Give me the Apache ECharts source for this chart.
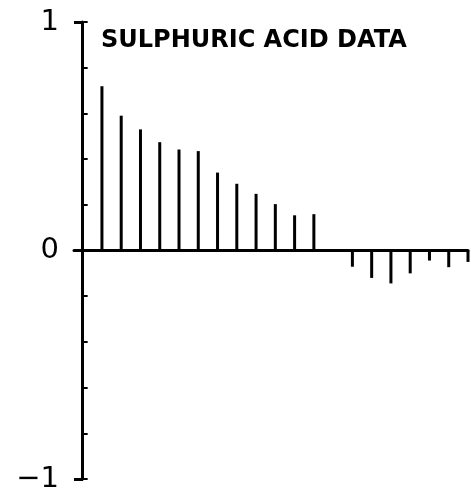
<!DOCTYPE html>
<html>
<head>
<meta charset="utf-8">
<script src="https://cdn.jsdelivr.net/npm/echarts@6/dist/echarts.min.js"></script>
<style>
  html, body { margin: 0; padding: 0; background: #fff; }
  #main { width: 471px; height: 498px; }
</style>
</head>
<body>
<div id="main"></div>
<script>
// autocorrelation by lag
var lags = [1, 2, 3, 4, 5, 6, 7, 8, 9, 10, 11, 12, 13, 14, 15, 16, 17, 18, 19, 20]
var acf = [0.719, 0.590, 0.530, 0.474, 0.442, 0.435, 0.341, 0.292, 0.248, 0.203,
           0.154, 0.159, 0, -0.071, -0.120, -0.144, -0.100, -0.044, -0.073, -0.050]
var yLabels = { '1': '1', '0': '0', '-1': '\u22121' }
var titleText = 'SULPHURIC ACID DATA'

var data = []
for (var i = 0; i < lags.length; i++) {
    data.push([lags[i], acf[i]])
}

var myChart = echarts.init(document.getElementById('main'))
var option = {
    animation: false,
    backgroundColor: '#fff',
    title: {
        text: titleText,
        left: 101,
        top: 29,
        padding: 0,
        textStyle: {
            fontFamily: 'DejaVu Sans',
            fontSize: 24,
            fontWeight: 'bold',
            color: '#000'
        }
    },
    grid: { left: 74, right: 3, top: 22, bottom: 19, containLabel: false },
    xAxis: {
        type: 'value',
        min: -0.45,
        max: 20,
        axisLine: { onZero: true, lineStyle: { color: '#000', width: 3 } },
        axisTick: { show: false },
        axisLabel: { show: false },
        splitLine: { show: false }
    },
    yAxis: [{
        type: 'value',
        min: -1,
        max: 1,
        interval: 0.2,
        axisLine: { show: true, onZero: true, lineStyle: { color: '#000', width: 3 } },
        axisTick: { show: true, inside: true, length: 5, lineStyle: { color: '#000', width: 2 } },
        axisLabel: {
            margin: 15,
            padding: [8, 0, 0, 0],
            fontFamily: 'DejaVu Sans',
            fontSize: 29,
            color: '#000',
            formatter: function (v) {
                var k = String(Math.round(v * 10) / 10)
                return yLabels[k] || ''
            }
        },
        splitLine: { show: false }
    }, {
        // end brackets at +1 and -1
        type: 'value',
        position: 'left',
        min: -1,
        max: 1,
        axisLine: { show: false, onZero: true },
        axisTick: { show: true, inside: true, length: 9, customValues: [-1, 1], lineStyle: { color: '#000', width: 3 } },
        axisLabel: { show: false },
        splitLine: { show: false }
    }],
    series: [{
        type: 'bar',
        data: data,
        barWidth: 3,
        itemStyle: { color: '#000' }
    }]
}
myChart.setOption(option)
</script>
</body>
</html>
